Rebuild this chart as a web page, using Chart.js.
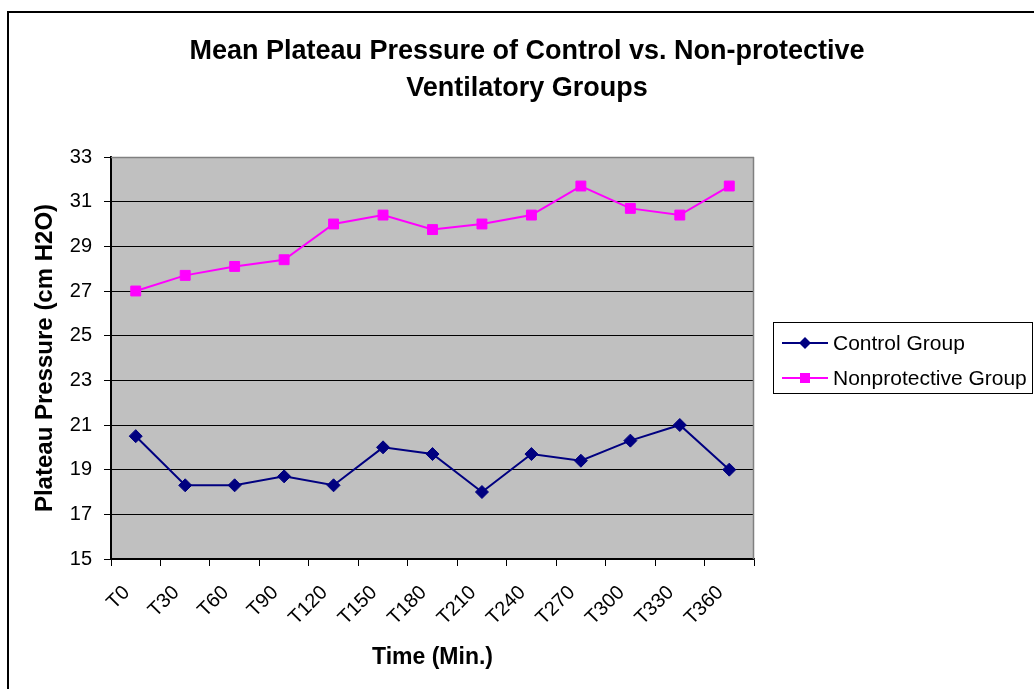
<!DOCTYPE html>
<html>
<head>
<meta charset="utf-8">
<script src="https://cdn.jsdelivr.net/npm/chart.js@4/dist/chart.umd.min.js"></script>
<style>
  html, body { margin: 0; padding: 0; background: #ffffff; }
  #wrap { width: 1034px; height: 689px; position: relative; }
</style>
</head>
<body>
<div id="wrap"><canvas id="c" width="1034" height="689"></canvas></div>
<script>
const categories = ['T0','T30','T60','T90','T120','T150','T180','T210','T240','T270','T300','T330','T360'];
const controlGroup = [20.5, 18.3, 18.3, 18.7, 18.3, 20.0, 19.7, 18.0, 19.7, 19.4, 20.3, 21.0, 19.0];
const nonprotectiveGroup = [27.0, 27.7, 28.1, 28.4, 30.0, 30.4, 29.75, 30.0, 30.4, 31.7, 30.7, 30.4, 31.7];
const seriesNames = ['Control Group', 'Nonprotective Group'];
const titleLines = ['Mean Plateau Pressure of Control vs. Non-protective', 'Ventilatory Groups'];
const yAxisTitle = 'Plateau Pressure (cm H2O)';
const xAxisTitle = 'Time (Min.)';
const yMin = 15, yMax = 33, yStep = 2;

const FONT = "'Liberation Sans', Arial, sans-serif";

const frameAndPlotBg = {
  id: 'frameAndPlotBg',
  beforeDraw(chart) {
    const {ctx, chartArea: a} = chart;
    ctx.save();
    ctx.fillStyle = '#ffffff';
    ctx.fillRect(0, 0, chart.width, chart.height);
    ctx.fillStyle = '#C0C0C0';
    ctx.fillRect(a.left, a.top, a.right - a.left, a.bottom - a.top);
    ctx.strokeStyle = '#000000';
    ctx.lineWidth = 2;
    ctx.strokeRect(8, 12, chart.width + 20, chart.height + 20);
    ctx.restore();
  },
  afterDatasetsDraw(chart) {
    const {ctx, chartArea: a} = chart;
    ctx.save();
    ctx.strokeStyle = '#808080';
    ctx.lineWidth = 1.5;
    ctx.beginPath();
    ctx.moveTo(a.left, a.top + 0.5);
    ctx.lineTo(a.right, a.top + 0.5);
    ctx.moveTo(a.right - 0.5, a.top);
    ctx.lineTo(a.right - 0.5, a.bottom);
    ctx.stroke();
    ctx.restore();
  }
};

const boxedLegend = {
  id: 'boxedLegend',
  afterDraw(chart) {
    const {ctx} = chart;
    const bx = 773, by = 322, bw = 260, bh = 71;
    ctx.save();
    ctx.strokeStyle = '#000000';
    ctx.lineWidth = 1;
    ctx.strokeRect(bx + 0.5, by + 0.5, bw - 1, bh);
    const rows = [343, 378];
    chart.data.datasets.forEach((ds, i) => {
      const y = rows[i];
      ctx.strokeStyle = ds.borderColor;
      ctx.lineWidth = 2;
      ctx.beginPath();
      ctx.moveTo(782, y);
      ctx.lineTo(828, y);
      ctx.stroke();
      ctx.fillStyle = ds.backgroundColor;
      ctx.beginPath();
      if (ds.pointStyle === 'rectRot') {
        const r = 6;
        ctx.moveTo(805, y - r); ctx.lineTo(805 + r, y); ctx.lineTo(805, y + r); ctx.lineTo(805 - r, y);
        ctx.closePath();
      } else {
        ctx.rect(805 - 5, y - 5, 10, 10);
      }
      ctx.fill();
      ctx.fillStyle = '#000000';
      ctx.font = '21px ' + FONT;
      ctx.textAlign = 'left';
      ctx.textBaseline = 'middle';
      ctx.fillText(ds.label, 833, y + 1);
    });
    ctx.restore();
  }
};

new Chart(document.getElementById('c'), {
  type: 'line',
  data: {
    labels: categories,
    datasets: [
      {
        label: seriesNames[0],
        data: controlGroup,
        borderColor: '#000080',
        backgroundColor: '#000080',
        pointBackgroundColor: '#000080',
        pointBorderColor: '#000080',
        pointStyle: 'rectRot',
        pointRadius: 6.5,
        pointBorderWidth: 1,
        borderWidth: 2,
        tension: 0,
        fill: false
      },
      {
        label: seriesNames[1],
        data: nonprotectiveGroup,
        borderColor: '#FF00FF',
        backgroundColor: '#FF00FF',
        pointBackgroundColor: '#FF00FF',
        pointBorderColor: '#FF00FF',
        pointStyle: 'rect',
        pointRadius: 7,
        pointBorderWidth: 1,
        borderWidth: 2,
        tension: 0,
        fill: false
      }
    ]
  },
  options: {
    responsive: false,
    animation: false,
    devicePixelRatio: 1,
    layout: { padding: { left: 20, right: 0, top: 0, bottom: 0 } },
    plugins: {
      legend: { display: false },
      tooltip: { enabled: false },
      title: {
        display: true,
        text: titleLines,
        color: '#000000',
        font: { family: FONT, size: 27, weight: 'bold', lineHeight: 37 / 27 },
        padding: { top: 33.5, bottom: 49.5 }
      }
    },
    scales: {
      x: {
        type: 'category',
        offset: true,
        afterFit(scale) { scale.height = 130; },
        grid: {
          display: true,
          drawOnChartArea: false,
          drawTicks: true,
          tickLength: 7,
          offset: true,
          color: '#000000',
          tickColor: '#000000',
          lineWidth: 1
        },
        border: { display: true, color: '#000000', width: 1.5 },
        ticks: {
          color: '#000000',
          font: { family: FONT, size: 20 },
          minRotation: 45,
          maxRotation: 45,
          autoSkip: false,
          padding: 15,
          labelOffset: -9
        },
        title: {
          display: true,
          text: xAxisTitle,
          color: '#000000',
          font: { family: FONT, size: 23, weight: 'bold' },
          padding: { top: 0, bottom: 18 }
        }
      },
      y: {
        min: yMin,
        max: yMax,
        afterFit(scale) { scale.width = 91; },
        grid: {
          display: true,
          color: '#000000',
          tickColor: '#000000',
          lineWidth: 1,
          drawTicks: true,
          tickLength: 7
        },
        border: { display: true, color: '#000000', width: 2 },
        ticks: {
          stepSize: yStep,
          color: '#000000',
          font: { family: FONT, size: 20 },
          padding: 12
        },
        title: {
          display: true,
          text: yAxisTitle,
          color: '#000000',
          font: { family: FONT, size: 24, weight: 'bold' },
          padding: { top: 11, bottom: 0 }
        }
      },
      legendSpace: {
        type: 'linear',
        position: 'right',
        display: true,
        afterFit(scale) { scale.width = 280; },
        grid: { display: false, drawOnChartArea: false },
        border: { display: false },
        ticks: { display: false },
        title: { display: false }
      }
    }
  },
  plugins: [frameAndPlotBg, boxedLegend]
});
</script>
</body>
</html>
